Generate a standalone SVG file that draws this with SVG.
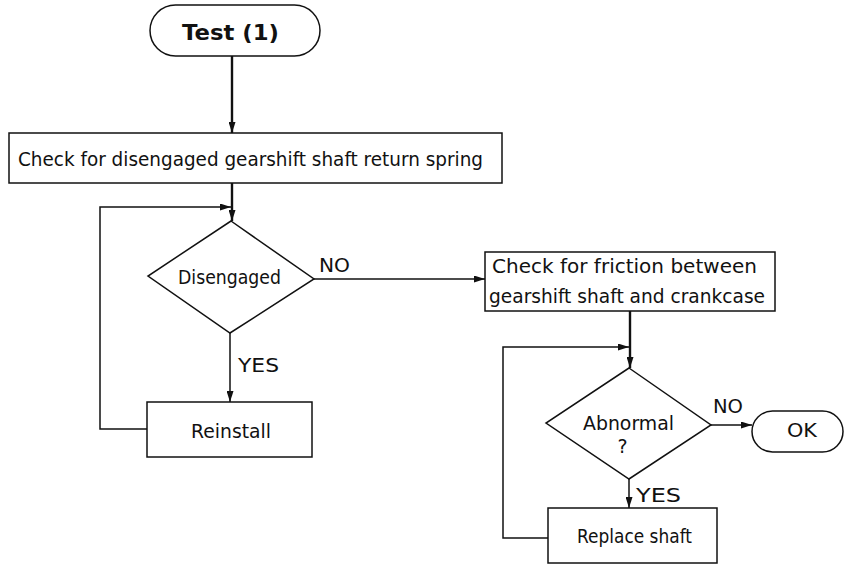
<svg xmlns="http://www.w3.org/2000/svg" width="845" height="573" viewBox="0 0 845 573">
<style>
.shape{fill:#fff;stroke:#111;stroke-width:1.5}
.t{font-family:"DejaVu Sans","Liberation Sans",Arial,sans-serif;font-size:19px;fill:#111}
.c{text-anchor:middle}
.line{fill:none;stroke:#111;stroke-width:1.5}
.thick{stroke-width:2.4}
</style>
<defs>
<marker id="ah" viewBox="0 0 11 7" refX="11" refY="3.5" markerWidth="11" markerHeight="7" markerUnits="userSpaceOnUse" orient="auto">
<path d="M0,0 L11,3.5 L0,7 Z" fill="#111"/>
</marker>
</defs>
<rect width="845" height="573" fill="#fff"/>
<g id="connectors">
<path class="line thick" d="M232,56 V133" marker-end="url(#ah)"/>
<path class="line thick" d="M232,183 V221" marker-end="url(#ah)"/>
<path class="line" d="M147,429 H100 V207 H231" marker-end="url(#ah)"/>
<path class="line" d="M314,279 H485" marker-end="url(#ah)"/>
<path class="line" d="M230,333 V402" marker-end="url(#ah)"/>
<path class="line thick" d="M630,311 V368" marker-end="url(#ah)"/>
<path class="line" d="M548,538 H503 V347 H629" marker-end="url(#ah)"/>
<path class="line" d="M711,425 H752" marker-end="url(#ah)"/>
<path class="line" d="M629,479 V508" marker-end="url(#ah)"/>
</g>
<g id="labels">
<text class="t" x="319" y="272" textLength="31" lengthAdjust="spacingAndGlyphs">NO</text>
<text class="t" x="238" y="372" textLength="41" lengthAdjust="spacingAndGlyphs">YES</text>
<text class="t" x="713" y="413" textLength="30" lengthAdjust="spacingAndGlyphs">NO</text>
<text class="t" x="636" y="502" textLength="45" lengthAdjust="spacingAndGlyphs">YES</text>
</g>
<g id="start">
<rect class="shape" x="150" y="5" width="170" height="51" rx="25.5"/>
<text class="t c" x="230.5" y="40" style="font-weight:bold;font-size:22px" textLength="97" lengthAdjust="spacingAndGlyphs">Test (1)</text>
</g>
<g id="check1">
<rect class="shape" x="9" y="133" width="493" height="50"/>
<text class="t c" x="250.5" y="166" textLength="465" lengthAdjust="spacingAndGlyphs">Check for disengaged gearshift shaft return spring</text>
</g>
<g id="disengaged">
<polygon class="shape" points="231,221 314,279 230,333 148,276"/>
<text class="t c" x="229.5" y="284" textLength="103" lengthAdjust="spacingAndGlyphs">Disengaged</text>
</g>
<g id="reinstall">
<rect class="shape" x="147" y="402" width="165" height="55"/>
<text class="t c" x="231" y="438" textLength="80" lengthAdjust="spacingAndGlyphs">Reinstall</text>
</g>
<g id="check2">
<rect class="shape" x="485" y="252" width="290" height="59"/>
<text class="t c" x="624.5" y="273" textLength="265" lengthAdjust="spacingAndGlyphs">Check for friction between</text>
<text class="t c" x="627" y="303" textLength="276" lengthAdjust="spacingAndGlyphs">gearshift shaft and crankcase</text>
</g>
<g id="abnormal">
<polygon class="shape" points="629,368 711,425 629,479 546,423"/>
<text class="t c" x="628.5" y="430" textLength="91" lengthAdjust="spacingAndGlyphs">Abnormal</text>
<text class="t c" x="622.5" y="453">?</text>
</g>
<g id="ok">
<rect class="shape" x="752" y="411" width="91" height="41" rx="20.5"/>
<text class="t c" x="802" y="437" textLength="30" lengthAdjust="spacingAndGlyphs">OK</text>
</g>
<g id="replace">
<rect class="shape" x="548" y="508" width="169" height="55"/>
<text class="t c" x="634.5" y="543" textLength="115" lengthAdjust="spacingAndGlyphs">Replace shaft</text>
</g>
</svg>
